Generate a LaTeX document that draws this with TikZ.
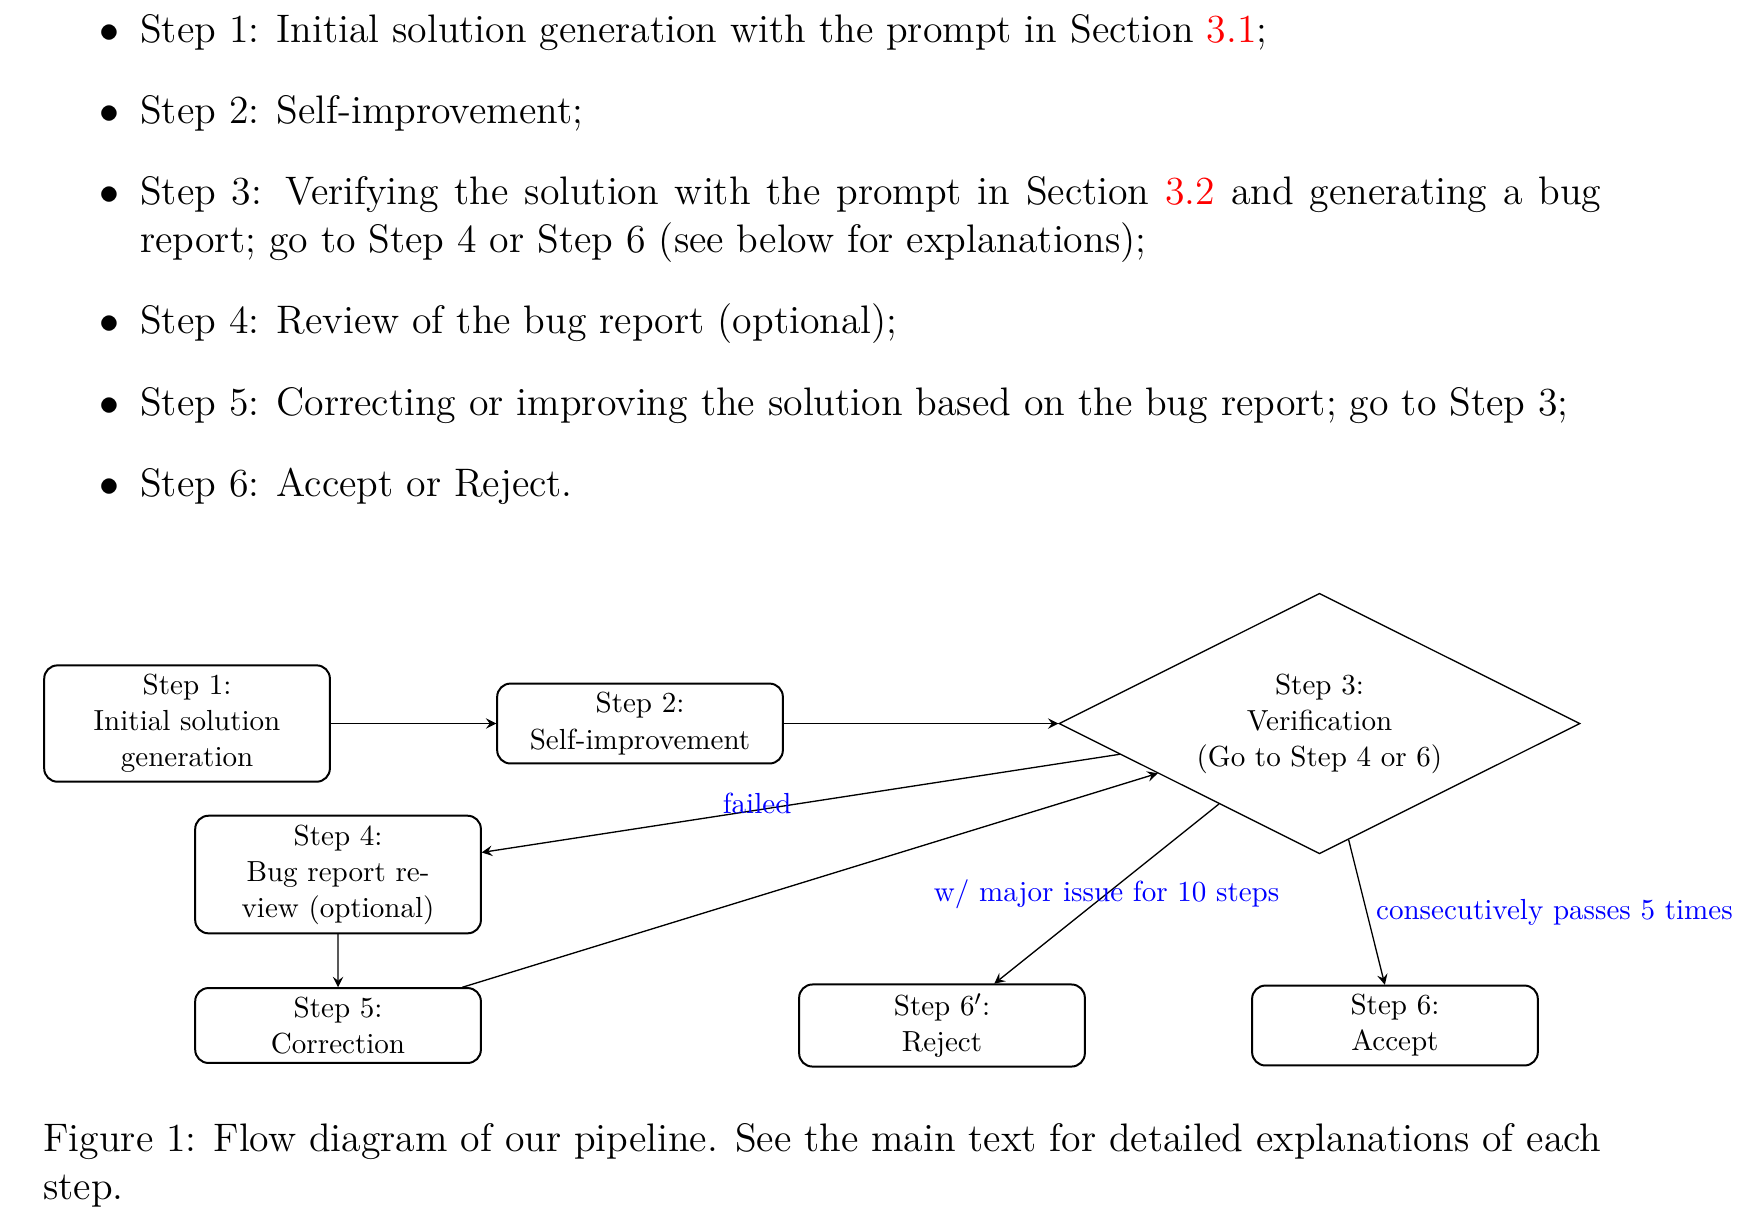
\documentclass[tikz,border=0pt]{standalone}
\usetikzlibrary{shapes.geometric}

\begin{document}
\begin{tikzpicture}[x=1pt,y=1pt]
\tikzset{
  bodyfont/.style={font=\fontsize{12}{14.5}\selectfont},
  item/.style={bodyfont, inner sep=0pt, anchor=base west, text width=440.5pt, align=justify},
  bul/.style={bodyfont, inner sep=0pt, anchor=base east},
  captext/.style={bodyfont, inner sep=0pt, anchor=base west, text width=469.75pt, align=justify},
  stepbox/.style={draw, semithick, rounded corners, text width=3.55cm, align=center},
  decision/.style={draw, diamond, aspect=2, text width=3.55cm, align=center},
  flow/.style={-stealth},
  cond/.style={text=blue},
}
\useasboundingbox (0,0) rectangle (524.63,-367.85);

% itemised description of the steps
\node[bul] (b1) at (36.2,-12.66) {$\bullet$};
\node[item] (i1) at (42.1,-12.66) {Step 1: Initial solution generation with the prompt in Section \textcolor{red}{3.1};};
\node[bul] (b2) at (36.2,-37.16) {$\bullet$};
\node[item] (i2) at (42.1,-37.16) {Step 2: Self-improvement;};
\node[bul] (b3) at (36.2,-61.66) {$\bullet$};
\node[item] (i3) at (42.1,-61.66) {Step 3: Verifying the solution with the prompt in Section \textcolor{red}{3.2} and generating a bug report; go to Step 4 or Step 6 (see below for explanations);};
\node[bul] (b4) at (36.2,-100.66) {$\bullet$};
\node[item] (i4) at (42.1,-100.66) {Step 4: Review of the bug report (optional);};
\node[bul] (b5) at (36.2,-125.16) {$\bullet$};
\node[item] (i5) at (42.1,-125.16) {Step 5: Correcting or improving the solution based on the bug report; go to Step 3;};
\node[bul] (b6) at (36.2,-149.66) {$\bullet$};
\node[item] (i6) at (42.1,-149.66) {Step 6: Accept or Reject.};

% flow diagram
\begin{scope}[shift={(56.4pt,-218.15pt)}, x=1cm, y=1cm, scale=0.8, transform shape,
              font=\fontsize{10.95}{13.6}\selectfont]
  \node[stepbox]  (s1)  at (0,0)   {Step 1:\\Initial solution generation};
  \node[stepbox]  (s2)  at (6,0)   {Step 2:\\Self-improvement};
  \node[decision] (s3)  at (15,0)  {Step 3:\\Verification\\(Go to Step 4 or 6)};
  \node[stepbox]  (s4)  at (2,-2)  {Step 4:\\Bug report review (optional)};
  \node[stepbox]  (s5)  at (2,-4)  {Step 5:\\Correction};
  \node[stepbox]  (s6r) at (10,-4) {Step 6$'$:\\Reject};
  \node[stepbox]  (s6a) at (16,-4) {Step 6:\\Accept};

  \draw[flow] (s1) -- (s2);
  \draw[flow] (s2) -- (s3);
  \draw[flow] (s3) -- node[cond, left] (lfail) {failed} (s4);
  \draw[flow] (s4) -- (s5);
  \draw[flow] (s5) -- (s3);
  \draw[flow] (s3) -- node[cond] (lrej) {w/ major issue for 10 steps} (s6r);
  \draw[flow] (s3) -- node[cond, right] (lacc) {consecutively passes 5 times} (s6a);
\end{scope}

% caption
\node[captext] (cap) at (12.9,-347.05) {Figure 1: Flow diagram of our pipeline. See the main text for detailed explanations of each step.};
\end{tikzpicture}
\end{document}
